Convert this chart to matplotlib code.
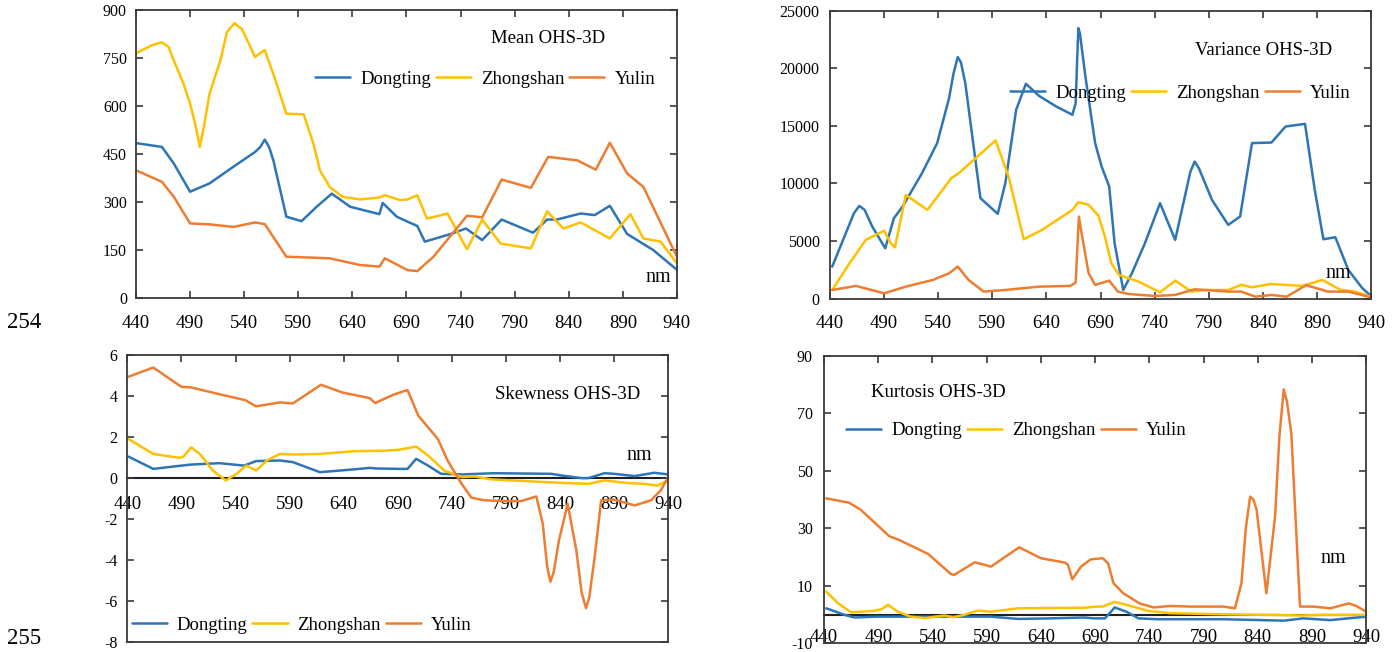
import matplotlib
matplotlib.use("Agg")
import matplotlib.pyplot as plt

plt.rcParams['font.family'] = ['Liberation Serif', 'DejaVu Serif']
plt.rcParams['axes.unicode_minus'] = False

C_DT = '#2E75B6'
C_ZS = '#FFC000'
C_YL = '#ED7D31'
names = ['Dongting', 'Zhongshan', 'Yulin']
xticks = list(range(440, 941, 50))

# ---- Mean OHS-3D ----
mean_dt_nm = [440, 464, 475, 490, 508, 530, 550, 555, 559, 563, 567, 579, 593, 607, 621, 638, 665, 668, 681, 690,
              700, 707, 731, 745, 760, 778, 807, 820, 829, 851, 864, 878, 894, 918, 940]
mean_dt = [484, 472, 420, 332, 358, 410, 456, 472, 495, 472, 430, 254, 240, 285, 326, 285, 262, 297, 254, 240,
           225, 176, 200, 217, 181, 245, 204, 245, 245, 264, 259, 288, 200, 150, 88]
mean_zs_nm = [440, 455, 464, 470, 475, 484, 490, 495, 499, 503, 508, 518, 524, 531, 538, 545, 550, 559, 568, 579,
              595, 604, 610, 619, 631, 647, 665, 670, 684, 691, 700, 709, 728, 746, 760, 777, 805, 820, 835, 851,
              878, 897, 909, 925, 940]
mean_zs = [765, 790, 799, 785, 742, 669, 607, 540, 472, 540, 638, 742, 830, 859, 840, 790, 753, 775, 690, 576,
           574, 482, 399, 347, 316, 308, 314, 321, 306, 308, 321, 248, 264, 152, 245, 170, 155, 271, 217, 236,
           186, 262, 186, 176, 108]
mean_yl_nm = [440, 464, 475, 490, 508, 530, 550, 559, 579, 595, 619, 647, 665, 670, 691, 700, 715, 746, 760, 778,
              805, 821, 848, 865, 878, 894, 909, 940]
mean_yl = [399, 363, 316, 233, 230, 222, 236, 231, 129, 127, 124, 103, 98, 124, 87, 84, 129, 257, 252, 370,
           344, 441, 430, 401, 485, 389, 347, 129]

# ---- Variance OHS-3D ----
var_dt_nm = [442, 462, 467, 472, 479, 491, 499, 507, 525, 539, 550, 554, 558, 561, 565, 579, 595, 602, 612, 621,
             633, 649, 664, 667, 668.5, 669.5, 671, 673, 676, 685, 691, 698, 703, 711, 719, 731, 745, 759, 773, 777,
             781, 793, 808, 819, 830, 848, 861, 879, 888, 896, 907, 919, 932, 940]
var_dt = [2780, 7400, 8050, 7700, 6255, 4373, 6980, 7990, 10890, 13500, 17400, 19500, 20970, 20500, 18700, 8720,
          7360, 10020, 16390, 18650, 17610, 16680, 15960, 16970, 21000, 23490, 23000, 21500, 19290, 13500, 11470,
          9730, 4800, 750, 2200, 4800, 8280, 5100, 11000, 11900, 11300, 8570, 6400, 7120, 13500, 13550, 14940,
          15170, 9440, 5150, 5330, 2490, 900, 230]
var_zs_nm = [442, 458, 473, 490, 496, 500, 510, 530, 552, 559, 578, 593, 605, 619, 636, 664, 669.5, 679, 688, 694,
             700, 707, 725, 745, 759, 774, 787, 808, 820, 830, 848, 876, 895, 912, 925, 940]
var_zs = [750, 3070, 5100, 5900, 4810, 4460, 9000, 7700, 10450, 10890, 12480, 13730, 10600, 5150, 5970, 7700, 8370,
          8140, 7200, 5390, 3070, 2060, 1480, 550, 1560, 610, 750, 750, 1190, 985, 1270, 1100, 1620, 750, 610, 170]
var_yl_nm = [442, 464, 490, 510, 535, 550, 558, 568, 582, 602, 633, 662, 667, 670, 673, 679, 685, 698, 706, 716,
             740, 759, 777, 808, 820, 833, 848, 862, 880, 890, 900, 919, 940]
var_yl = [750, 1100, 460, 1040, 1620, 2200, 2780, 1620, 610, 750, 1040, 1100, 1390, 7120, 5390, 2200, 1190, 1560,
          610, 400, 230, 320, 810, 610, 610, 170, 320, 170, 1160, 900, 610, 610, 115]

# ---- Skewness OHS-3D ----
skew_dt_nm = [441, 464, 490, 499, 525, 548, 559, 581, 593, 618, 648, 664, 670, 692, 699, 707, 718, 730, 749, 779,
              832, 841, 860, 866, 881, 890, 909, 927, 940]
skew_dt = [1.05, 0.45, 0.61, 0.66, 0.73, 0.61, 0.83, 0.86, 0.78, 0.29, 0.42, 0.50, 0.47, 0.45, 0.45, 0.94, 0.61,
           0.21, 0.18, 0.24, 0.21, 0.13, 0.0, 0.0, 0.24, 0.21, 0.10, 0.26, 0.18]
skew_zs_nm = [441, 464, 488, 492, 499, 507, 519, 531, 541, 550, 559, 569, 581, 593, 618, 649, 679, 692, 707, 718,
              733, 749, 761, 776, 795, 826, 841, 866, 881, 903, 918, 930, 940]
skew_zs = [1.91, 1.18, 0.99, 1.05, 1.50, 1.18, 0.37, -0.11, 0.21, 0.61, 0.37, 0.86, 1.18, 1.15, 1.18, 1.31, 1.34,
           1.39, 1.54, 1.10, 0.37, 0.05, 0.08, -0.06, -0.11, -0.19, -0.23, -0.28, -0.11, -0.24, -0.28, -0.36, -0.11]
skew_yl_nm = [441, 464, 490, 499, 525, 549, 559, 581, 593, 619, 639, 664, 669, 687, 699, 709, 727, 736, 749, 758,
              770, 789, 804, 818, 824, 828, 831, 834, 839, 847, 855, 860, 864, 867, 872, 878, 890, 909, 924, 933, 940]
skew_yl = [4.94, 5.39, 4.45, 4.42, 4.09, 3.80, 3.50, 3.69, 3.64, 4.55, 4.17, 3.90, 3.66, 4.09, 4.29, 3.04, 1.91,
           0.86, -0.28, -0.95, -1.08, -1.12, -1.12, -0.89, -2.22, -4.3, -5.05, -4.6, -3.03, -1.25, -3.51, -5.6,
           -6.34, -5.8, -3.83, -1.08, -1.05, -1.33, -1.08, -0.6, 0.05]

# ---- Kurtosis OHS-3D ----
kurt_dt_nm = [442, 459, 468, 489, 526, 557, 594, 619, 649, 680, 689, 699, 704, 708, 719, 730, 747, 808, 864, 882,
              907, 940]
kurt_dt = [2.2, -0.1, -1.0, -0.7, -0.7, -0.7, -0.7, -1.5, -1.3, -1.0, -1.3, -1.3, 0.7, 2.5, 1.0, -1.3, -1.6, -1.6,
           -2.1, -1.3, -1.9, -0.7]
kurt_zs_nm = [442, 453, 465, 486, 493, 499, 508, 520, 533, 551, 559, 569, 582, 594, 619, 649, 680, 692, 697, 708,
              719, 739, 759, 808, 854, 879, 901, 940]
kurt_zs = [8.0, 3.9, 0.8, 1.3, 1.9, 3.4, 1.0, -0.7, -1.2, -0.3, -0.9, -0.1, 1.4, 1.0, 2.2, 2.3, 2.4, 2.8, 2.8, 4.4,
           3.4, 1.3, 0.5, 0.1, -0.1, -0.3, -0.1, -0.1]
kurt_yl_nm = [442, 463, 474, 500, 509, 536, 557, 560, 579, 594, 620, 640, 662, 665, 669, 677, 686, 697, 702, 707,
              716, 731, 744, 759, 778, 808, 819, 825, 829, 833, 836, 839, 848, 856, 860, 864, 867, 871, 879, 891,
              907, 924, 931, 940]
kurt_yl = [40.4, 38.9, 36.4, 27.3, 26.0, 21.1, 14.1, 13.8, 18.2, 16.7, 23.4, 19.6, 18.1, 17.3, 12.3, 16.7, 19.2,
           19.6, 17.8, 10.9, 7.4, 3.9, 2.5, 3.0, 2.8, 2.8, 2.2, 10.9, 30.0, 41.0, 40.0, 36.4, 7.4, 34.1, 62.0, 78.3,
           74.0, 63.0, 2.8, 2.8, 2.2, 3.9, 3.0, 1.0]

panels = [
    dict(rect=[0.0974, 0.543, 0.3875, 0.4417], ylim=(0, 900), yticks=range(0, 901, 150),
         series=[(mean_dt_nm, mean_dt), (mean_zs_nm, mean_zs), (mean_yl_nm, mean_yl)],
         title='Mean OHS-3D', title_xy=(0.657, 0.90), nm_xy=(0.941, 0.057),
         leg_xy=(0.331, 0.76), zero_axis=False, ypad=6.5, xpad=12),
    dict(rect=[0.5946, 0.542, 0.3875, 0.4417], ylim=(0, 25000), yticks=range(0, 25001, 5000),
         series=[(var_dt_nm, var_dt), (var_zs_nm, var_zs), (var_yl_nm, var_yl)],
         title='Variance OHS-3D', title_xy=(0.675, 0.861), nm_xy=(0.915, 0.071),
         leg_xy=(0.333, 0.714), zero_axis=False, ypad=7.5, xpad=12),
    dict(rect=[0.0912, 0.0149, 0.3875, 0.4406], ylim=(-8, 6), yticks=range(-8, 7, 2),
         series=[(skew_dt_nm, skew_dt), (skew_zs_nm, skew_zs), (skew_yl_nm, skew_yl)],
         title='Skewness OHS-3D', title_xy=(0.68, 0.863), nm_xy=(0.923, 0.635),
         leg_xy=(0.008, 0.06), zero_axis=True, ypad=7, xpad=13),
    dict(rect=[0.5903, 0.0132, 0.3883, 0.4413], ylim=(-10, 90), yticks=range(-10, 91, 20),
         series=[(kurt_dt_nm, kurt_dt), (kurt_zs_nm, kurt_zs), (kurt_yl_nm, kurt_yl)],
         title='Kurtosis OHS-3D', title_xy=(0.087, 0.873), nm_xy=(0.916, 0.278),
         leg_xy=(0.041, 0.739), zero_axis=True, ypad=8, xpad=10),
]

fig = plt.figure(figsize=(13.96, 6.52), dpi=100)

for p in panels:
    ax = fig.add_axes(p['rect'])
    for (xs, ys), c, n in zip(p['series'], [C_DT, C_ZS, C_YL], names):
        ax.plot(xs, ys, color=c, lw=1.8, label=n, solid_capstyle='round', solid_joinstyle='round')
    ax.set_xlim(440, 940)
    ax.set_ylim(*p['ylim'])
    ax.set_yticks(list(p['yticks']))
    ax.set_xticks(xticks)
    for s in ax.spines.values():
        s.set_color('#3a3a3a')
        s.set_linewidth(1.3)
    ax.tick_params(axis='y', direction='in', left=True, right=True, length=5, width=1.2,
                   color='#3a3a3a', labelsize=11.5, pad=p['ypad'])
    if p['zero_axis']:
        ax.tick_params(axis='x', direction='in', top=True, bottom=False, labelbottom=False,
                       length=5, width=1.2, color='#3a3a3a')
        sec = ax.secondary_xaxis(0, transform=ax.transData)
        sec.set_xticks(xticks)
        sec.tick_params(direction='in', length=0, labelsize=13.5, pad=p['xpad'])
        sec.spines['bottom'].set_color('#202020')
        sec.spines['bottom'].set_linewidth(1.5)
    else:
        ax.tick_params(axis='x', direction='in', top=True, bottom=True, length=5, width=1.2,
                       color='#3a3a3a', labelsize=13.5, pad=p['xpad'])
    ax.text(p['title_xy'][0], p['title_xy'][1], p['title'], transform=ax.transAxes,
            fontsize=13.5, ha='left', va='center')
    ax.text(p['nm_xy'][0], p['nm_xy'][1], 'nm', transform=ax.transAxes,
            fontsize=14.5, ha='left', va='baseline')
    ax.legend(loc='center left', bbox_to_anchor=p['leg_xy'], ncol=3, frameon=False,
              fontsize=13.5, handlelength=1.87, handletextpad=0.53, columnspacing=0.27,
              borderpad=0, borderaxespad=0)

fig.text(0.005, 0.497, '254', fontsize=16.5, ha='left', va='baseline')
fig.text(0.005, 0.012, '255', fontsize=16.5, ha='left', va='baseline')

fig.savefig('out.png', dpi=100, facecolor='white')
